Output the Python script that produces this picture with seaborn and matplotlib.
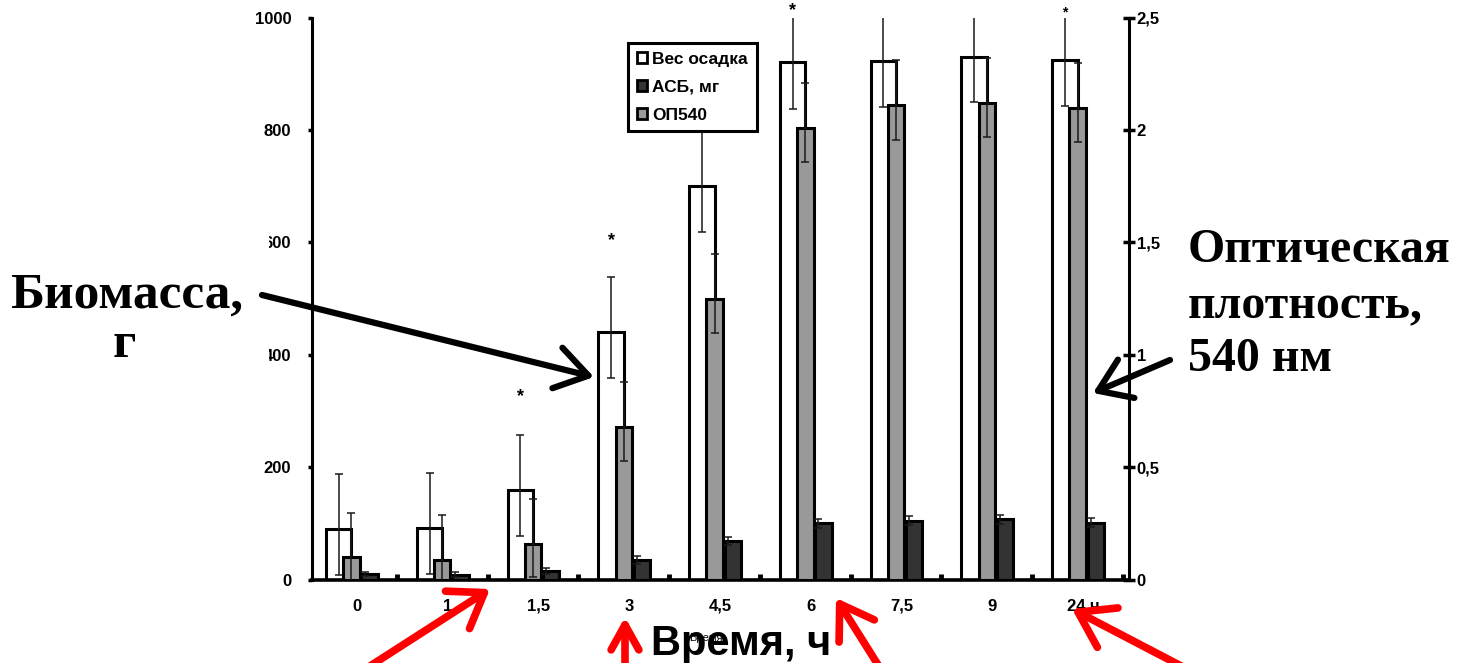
import numpy as np
import pandas as pd
import matplotlib
matplotlib.use('Agg')
import matplotlib.pyplot as plt
import seaborn as sns
from matplotlib.patches import Patch, Rectangle, FancyArrowPatch, ArrowStyle

# ---------------- data ----------------
categories = ['0', '1', '1,5', '3', '4,5', '6', '7,5', '9', '24 ч']
ves_osadka = [90, 91, 160, 440, 700, 920, 922, 930, 925]
ves_err_lo = [82, 81, 82, 81, 82, 82, 82, 81, 82]
ves_err_hi = [98, 98, 98, 98, 100, 98, 98, 98, 98]
op540 = [0.100, 0.088, 0.159, 0.677, 1.250, 2.008, 2.110, 2.120, 2.098]
op540_err_lo = [0.150, 0.150, 0.150, 0.152, 0.154, 0.152, 0.153, 0.153, 0.153]
op540_err_hi = [0.195, 0.197, 0.200, 0.200, 0.196, 0.200, 0.200, 0.200, 0.200]
asb = [0.025, 0.022, 0.037, 0.088, 0.173, 0.250, 0.262, 0.267, 0.253]
asb_err = [0.010, 0.010, 0.012, 0.017, 0.018, 0.020, 0.020, 0.020, 0.020]
sig_idx = [2, 3, 5, 8]
sig_y = [326, 603, 1012, 1009]
left_ticks = [0, 200, 400, 600, 800, 1000]
right_ticks = [0, 0.5, 1, 1.5, 2, 2.5]
right_ticklabels = ['0', '0,5', '1', '1,5', '2', '2,5']
legend_labels = ['Вес осадка', 'АСБ, мг', 'ОП540']

# ---------------- style ----------------
sns.set_style('white')
plt.rcParams['font.family'] = ['Liberation Sans', 'DejaVu Sans']
plt.rcParams.update({'text.color': 'black', 'axes.edgecolor': 'black',
                     'xtick.color': 'black', 'ytick.color': 'black',
                     'axes.labelcolor': 'black'})

W, H = 1461, 663
fig = plt.figure(figsize=(W / 100, H / 100), dpi=100)
L, R, B, T = 311.5, 1128.5, 579.5, 17.5
ax = fig.add_axes([L / W, 1 - B / H, (R - L) / W, (B - T) / H])

def fp(x, y):
    return (x / W, 1 - y / H)

df = pd.DataFrame({'t': categories, 'ves': ves_osadka, 'op': op540, 'asb': asb})
x = np.arange(len(categories))
off_w, off_g, off_d = -0.20, -0.06, 0.14
WHITE, GRAY, DARK = '#ffffff', '#999999', '#333333'

# white bars (left axis)
sns.barplot(data=df, x='t', y='ves', order=categories, ax=ax, color=WHITE,
            saturation=1, edgecolor='black', linewidth=2.2, width=0.28,
            errorbar=None)
for p in ax.patches:
    p.set_x(p.get_x() + off_w)
ax.errorbar(x + off_w, ves_osadka, yerr=[ves_err_lo, ves_err_hi], fmt='none',
            ecolor='#1a1a1a', elinewidth=1.1, capsize=3, capthick=1.1)

# gray & dark bars (right axis)
ax2 = ax.twinx()
sns.barplot(data=df, x='t', y='op', order=categories, ax=ax2, color=GRAY,
            saturation=1, edgecolor='black', linewidth=2.2, width=0.18,
            errorbar=None)
n_g = len(ax2.patches)
for p in ax2.patches:
    p.set_x(p.get_x() + off_g)
sns.barplot(data=df, x='t', y='asb', order=categories, ax=ax2, color=DARK,
            saturation=1, edgecolor='black', linewidth=2.2, width=0.18,
            errorbar=None)
for p in ax2.patches[n_g:]:
    p.set_x(p.get_x() + off_d)
ax2.errorbar(x + off_g, op540, yerr=[op540_err_lo, op540_err_hi], fmt='none',
             ecolor='#1a1a1a', elinewidth=1.1, capsize=3, capthick=1.1)
ax2.errorbar(x + off_d - 0.055, asb, yerr=asb_err, fmt='none',
             ecolor='#1a1a1a', elinewidth=1.1, capsize=3, capthick=1.1)

# asterisks
for i, yv in zip(sig_idx, sig_y):
    ax.text(i + off_w, yv, '*', ha='center', va='center', fontweight='bold',
            fontsize=10 if i == 8 else 13, clip_on=False)

# axes limits & ticks
ax.set_xlim(-0.5, len(categories) - 0.5)
ax.set_ylim(0, 1000)
ax2.set_ylim(0, 2.5)
ax.set_xlabel('')
ax.set_ylabel('')
ax2.set_xlabel('')
ax2.set_ylabel('')
ax.set_xticks(x)
ax.set_xticklabels(categories, fontweight='bold', fontsize=12)
ax.set_xticks(x + 0.44, minor=True)
ax.tick_params(axis='x', which='major', length=0, pad=14)
ax.tick_params(axis='x', which='minor', direction='in', length=4, width=3.5,
               bottom=True)
ax.set_yticks(left_ticks)
ax.set_yticklabels([str(v) for v in left_ticks], fontweight='bold', fontsize=12)
ax.tick_params(axis='y', direction='out', length=3, width=2.5, pad=11.5, left=True)
ax2.set_yticks(right_ticks)
ax2.set_yticklabels(right_ticklabels, fontweight='bold', fontsize=12)
ax2.tick_params(axis='y', direction='inout', length=8, width=2.5, pad=2, right=True)

for s in ['top', 'right']:
    ax.spines[s].set_visible(False)
ax.spines['left'].set_linewidth(2.2)
ax.spines['bottom'].set_linewidth(2.6)
for s in ['top', 'left', 'bottom']:
    ax2.spines[s].set_visible(False)
ax2.spines['right'].set_linewidth(2.2)
ax.grid(False)
ax2.grid(False)

# legend
handles = [Patch(facecolor=WHITE, edgecolor='black', linewidth=2),
           Patch(facecolor=DARK, edgecolor='black', linewidth=2),
           Patch(facecolor=GRAY, edgecolor='black', linewidth=2)]
leg = fig.legend(handles, legend_labels, loc='upper left',
                 bbox_to_anchor=fp(628, 43), bbox_transform=fig.transFigure,
                 prop={'weight': 'bold', 'size': 12.5}, frameon=True,
                 fancybox=False, edgecolor='black', framealpha=1,
                 handlelength=0.6, handleheight=0.6, handletextpad=0.3,
                 borderpad=0.5, labelspacing=0.75, borderaxespad=0)
leg.get_frame().set_linewidth(2.2)

# white text box hiding part of the left tick labels
fig.add_artist(Rectangle(fp(0, 362), 269 / W, (362 - 234) / H,
                         transform=fig.transFigure, facecolor='white',
                         edgecolor='none', zorder=5))

serif = ['Liberation Serif', 'DejaVu Serif']
fig.text(*fp(127, 308), 'Биомасса,', ha='center', va='baseline', family=serif,
         weight='bold', fontsize=37, zorder=6)
fig.text(*fp(124, 357), 'г', ha='center', va='baseline', family=serif,
         weight='bold', fontsize=37, zorder=6)
fig.text(*fp(1188, 262), 'Оптическая', ha='left', va='baseline', family=serif,
         weight='bold', fontsize=34.5, zorder=6)
fig.text(*fp(1188, 318), 'плотность,', ha='left', va='baseline', family=serif,
         weight='bold', fontsize=34.5, zorder=6)
fig.text(*fp(1188, 371), '540 нм', ha='left', va='baseline', family=serif,
         weight='bold', fontsize=34.5, zorder=6)

fig.text(*fp(706, 638), 'Время', ha='center', va='center', fontsize=8,
         zorder=5.5)
fig.text(*fp(741, 655), 'Время, ч', ha='center', va='baseline', fontsize=30,
         weight='bold', zorder=6)

# arrows
def arrow(tail, tip, color, lw, hl, hw):
    st = ArrowStyle('->', head_length=hl, head_width=hw)
    fig.add_artist(FancyArrowPatch(fp(*tail), fp(*tip), transform=fig.transFigure,
                                   arrowstyle=st, mutation_scale=10, lw=lw,
                                   color=color, capstyle='round',
                                   joinstyle='round', shrinkA=0, shrinkB=0,
                                   zorder=7, clip_on=False))

arrow((262, 295), (594, 377), 'black', 4.5, 2.3, 1.5)
arrow((1170, 360), (1093, 393), 'black', 4.5, 2.2, 1.5)
arrow((367, 668), (490, 589), '#ff0000', 5.5, 2.3, 1.6)
arrow((625, 668), (625, 617), '#ff0000', 5.5, 1.8, 1.0)
arrow((880, 668), (836, 598), '#ff0000', 5.5, 2.3, 1.5)
arrow((1185, 668), (1072, 609), '#ff0000', 5.5, 2.4, 1.6)

fig.savefig('out.png', dpi=100)
